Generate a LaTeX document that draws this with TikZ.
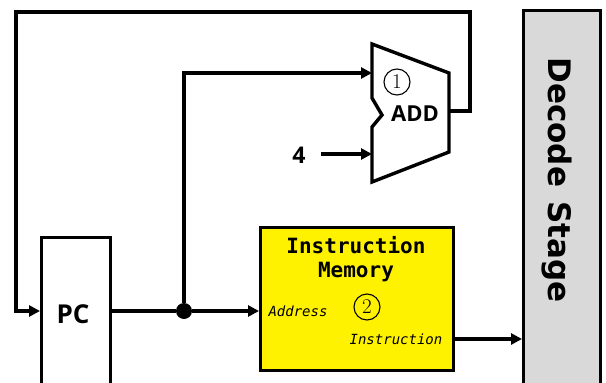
\documentclass[tikz,border=0pt]{standalone}
\usepackage{fontspec}
\newfontfamily\osans{Open Sans}
\newfontfamily\dsans{DejaVu Sans}
\newfontfamily\dmono{DejaVu Sans Mono}
\usetikzlibrary{arrows.meta}
\begin{document}
\begin{tikzpicture}[x=1pt,y=-1pt,
  wire/.style={line width=3.6pt},
  arr/.style={wire,-{Triangle[length=11pt,width=11pt]}},
  blk/.style={draw,line width=3.4pt,inner sep=0pt},
  num/.style={circle,draw,line width=1.1pt,minimum size=26pt,inner sep=0pt,font=\fontsize{21}{21}\selectfont},
  big/.style={font=\osans\bfseries\fontsize{26}{26}\selectfont},
]
\useasboundingbox (0,0) rectangle (606,383);
\clip (0,0) rectangle (606,383);
% blocks
\node[blk,minimum width=69pt,minimum height=156pt,anchor=north west] (pc) at (40,236) {};
\node[big] (pctext) at (73,314) {PC};
\node[blk,fill=yellow,minimum width=193pt,minimum height=143pt,anchor=north west] (mem) at (259,226) {};
\node[font=\dmono\bfseries\fontsize{21}{21}\selectfont] (memt1) at (356,245) {Instruction};
\node[font=\dmono\bfseries\fontsize{21}{21}\selectfont] (memt2) at (356,272) {Memory};
\node[font=\dmono\itshape\fontsize{14}{14}\selectfont] (addr) at (298,311) {Address};
\node[font=\dmono\itshape\fontsize{14}{14}\selectfont] (instr) at (396,339) {Instruction};
\node[num] (n2) at (367,307) {2};
\node[blk,fill=black!15,minimum width=77pt,minimum height=400pt,anchor=north west] (dec) at (522,9) {};
\node[rotate=-90,font=\dsans\bfseries\fontsize{31}{31}\selectfont] (dect) at (557,180) {Decode\hspace{0.45em}Stage};
% adder
\coordinate (a1) at (372,44);
\coordinate (a2) at (449,73);
\coordinate (a3) at (449,152);
\coordinate (a4) at (372,182);
\draw[line width=3.4pt,line join=miter] (a1) -- (a2) -- (a3) -- (a4) -- (372,127) -- (382,115) -- (372,98) -- cycle;
\node[num] (n1) at (397,82) {1};
\node[font=\osans\bfseries\fontsize{22}{22}\selectfont] (addt) at (415,114) {ADD};
\coordinate (ain1) at (372,73);
\coordinate (ain2) at (372,154);
\coordinate (aout) at (449,111);
\node[font=\osans\bfseries\fontsize{23}{23}\selectfont] (four) at (299,155) {4};
% wires
\node[circle,fill=black,minimum size=16pt,inner sep=0pt] (dot) at (184,311) {};
\coordinate (fbtop) at (470,12);
\coordinate (fbleft) at (16,12);
\draw[wire] (pc.east |- dot) -- (dot);
\draw[arr] (dot) -- (mem.west |- dot);
\draw[arr] (dot) |- (ain1);
\draw[arr] (321,154) -- (ain2);
\draw[arr,line join=miter] (aout) -| (fbtop) -- (fbleft) |- (pc.west |- dot);
\draw[arr] (mem.east |- instr) -- (dec.west |- instr);
\end{tikzpicture}
\end{document}
